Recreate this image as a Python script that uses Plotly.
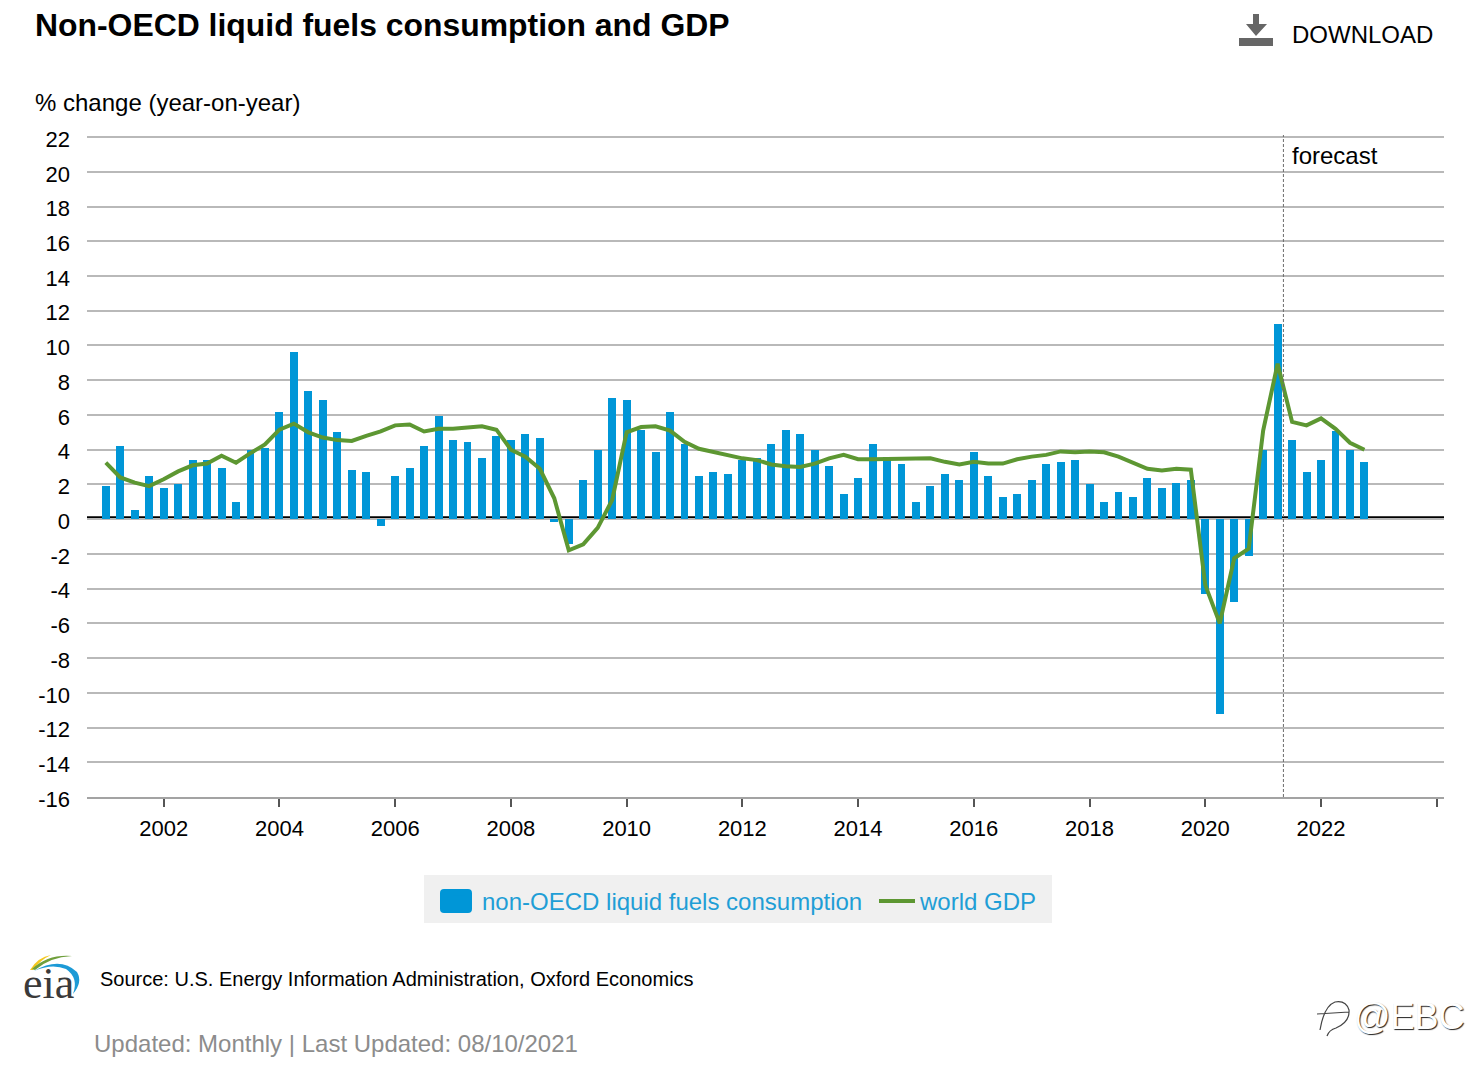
import plotly.graph_objects as go

START_YEAR = 2001
consumption = [1.9,4.2,0.5,2.5,1.8,2.0,3.4,3.4,2.95,1.0,4.0,4.1,6.15,9.6,7.4,6.85,5.0,2.85,2.7,-0.4,
               2.5,2.95,4.2,5.95,4.55,4.45,3.5,4.8,4.55,4.9,4.65,-0.15,-1.45,2.25,4.0,7.0,6.85,5.15,3.85,6.15,
               4.3,2.5,2.7,2.6,3.4,3.5,4.3,5.15,4.9,4.0,3.05,1.45,2.35,4.3,3.6,3.15,1.0,1.9,2.6,2.25,
               3.85,2.5,1.3,1.45,2.25,3.15,3.3,3.4,2.0,1.0,1.55,1.3,2.35,1.8,2.1,2.25,-4.3,-11.2,-4.75,-2.1,
               4.0,11.25,4.55,2.7,3.4,5.1,4.0,3.3]
gdp = [3.25,2.4,2.1,1.9,2.3,2.75,3.1,3.2,3.65,3.25,3.8,4.3,5.15,5.5,5.0,4.7,4.55,4.5,4.8,5.05,
       5.4,5.45,5.05,5.2,5.2,5.25,5.35,5.15,4.0,3.6,2.9,1.2,-1.8,-1.45,-0.5,1.1,5.0,5.3,5.35,5.1,
       4.45,4.05,3.85,3.7,3.5,3.4,3.15,3.05,3.0,3.2,3.5,3.7,3.45,3.45,3.45,3.45,3.45,3.5,3.3,3.15,
       3.3,3.2,3.2,3.45,3.6,3.7,3.9,3.85,3.9,3.85,3.6,3.25,2.9,2.8,2.9,2.85,-3.8,-6.0,-2.25,-1.7,
       5.1,8.95,5.6,5.4,5.8,5.2,4.4,4.0]
quarters = [START_YEAR + i / 4 for i in range(len(consumption))]
year_ticks = [2002,2004,2006,2008,2010,2012,2014,2016,2018,2020,2022,2024]
year_labels = ["2002","2004","2006","2008","2010","2012","2014","2016","2018","2020","2022",""]
y_ticks = [22,20,18,16,14,12,10,8,6,4,2,0,-2,-4,-6,-8,-10,-12,-14,-16]
y_labels = ["22","20","18","16","14","12","10","8","6","4","2","0","-2","-4","-6","-8","-10","-12","-14","-16"]
FORECAST_START = 2021.35

L, R, T, B = 87, 1444, 135, 797
W, H = 1480, 1074
def px(x): return (x - L) / (R - L)
def py(y): return (B - y) / (B - T)

BLUE, GREEN = "#0096d7", "#5d9732"
FONT = "Liberation Sans"

fig = go.Figure()
fig.add_bar(x=quarters, y=consumption, name="non-OECD liquid fuels consumption",
            marker=dict(color=BLUE, line_width=0), width=0.1375)
fig.add_scatter(x=quarters, y=gdp, name="world GDP", mode="lines",
                line=dict(color=GREEN, width=4))

def text(x, y, s, size, color="#000000", anchor="left", bold=False, family=FONT, **kw):
    fig.add_annotation(xref="paper", yref="paper", x=px(x), y=py(y), text=f"<b>{s}</b>" if bold else s,
                       showarrow=False, xanchor=anchor, yanchor="middle", align="left",
                       font=dict(size=size, color=color, family=family, **kw.pop("font", {})),
                       borderpad=0, borderwidth=0, **kw)

text(35, 25, "Non-OECD liquid fuels consumption and GDP", 31.9, bold=True)
text(1292, 34, "DOWNLOAD", 24)
text(35, 103, "% change (year-on-year)", 24)
text(1292, 155.5, "forecast", 24)
text(100, 979, "Source: U.S. Energy Information Administration, Oxford Economics", 20)
text(94, 1043.5, "Updated: Monthly | Last Updated: 08/10/2021", 24, color="#8c8c8c")
text(23, 983, "eia", 44, color="#3a3a3a", family="Liberation Serif")
text(1354, 1016, "@EBC", 36, color="#ffffff", font=dict(shadow="1px 1px 1px #222"))

def path(points_cmd):
    out = []
    for c in points_cmd:
        if isinstance(c, str):
            out.append(c)
        else:
            out.append(f"{px(c[0]):.5f},{py(c[1]):.5f}")
    return " ".join(out)

shapes = [
    dict(type="line", xref="x", yref="paper", x0=FORECAST_START, x1=FORECAST_START, y0=0, y1=1,
         line=dict(color="#6b6b6b", width=1, dash="3px,2px"), layer="above"),
    # zero line
    dict(type="line", xref="paper", yref="y", x0=0, x1=1, y0=0.1, y1=0.1,
         line=dict(color="#000000", width=2.5), layer="below"),
    # legend panel and swatch beneath the transparent legend
    dict(type="rect", xref="paper", yref="paper", x0=px(424), x1=px(1052), y0=py(923), y1=py(875),
         fillcolor="#f0f0f0", line_width=0, layer="below"),
    dict(type="path", xref="paper", yref="paper",
         path=path(["M",(444,889),"L",(468,889),"Q",(472,889),(472,893),"L",(472,909),"Q",(472,913),(468,913),
                    "L",(444,913),"Q",(440,913),(440,909),"L",(440,893),"Q",(440,889),(444,889),"Z"]),
         fillcolor=BLUE, line_width=0, layer="below"),
    # download icon
    dict(type="rect", xref="paper", yref="paper", x0=px(1239), x1=px(1273), y0=py(46), y1=py(38),
         fillcolor="#666666", line_width=0),
    dict(type="path", xref="paper", yref="paper",
         path=path(["M",(1253,14),"L",(1259,14),"L",(1259,24),"L",(1267,24),"L",(1256,36),"L",(1246,24),"L",(1253,24),"Z"]),
         fillcolor="#666666", line_width=0),
    # logo arcs
    dict(type="path", xref="paper", yref="paper", path=path(["M",(30,970),"Q",(38,957),(51,955),"Q",(40,960),(33,970),"Z"]),
         fillcolor="#f4c81e", line_width=0),
    dict(type="path", xref="paper", yref="paper", path=path(["M",(32,969),"Q",(48,954),(72,956),"Q",(50,957),(35,970),"Z"]),
         fillcolor="#6f9f3c", line_width=0),
    dict(type="path", xref="paper", yref="paper", path=path(["M",(34,971),"Q",(60,956),(77,972),"Q",(83,982),(73,994),"Q",(79,978),(66,969),"Q",(52,963),(34,971),"Z"]),
         fillcolor="#1c9ad6", line_width=0),
    # watermark glyph
    dict(type="path", xref="paper", yref="paper",
         path=path(["M",(1327,1036),"Q",(1329,1030),(1336,1028),"Q",(1350,1022),(1349,1010),"Q",(1346,1000),(1335,1002),"Q",(1324,1006),(1320,1030),
                    "M",(1317,1014),"L",(1349,1012)]),
         line=dict(color="#444444", width=1.2), fillcolor="rgba(0,0,0,0)"),
]

fig.update_layout(
    width=W, height=H, margin=dict(l=L, r=W - R, t=T, b=H - B, pad=0, autoexpand=False),
    paper_bgcolor="#ffffff", plot_bgcolor="#ffffff",
    font=dict(family=FONT, size=22, color="#000000"),
    bargap=0, shapes=shapes,
    legend=dict(orientation="h", x=px(436), y=py(879), xanchor="left", yanchor="top",
                bgcolor="rgba(0,0,0,0)", font=dict(size=24, color="#1f9ed6", family=FONT), itemwidth=36,
                entrywidth=387, entrywidthmode="pixels", traceorder="normal"),
    xaxis=dict(range=[2000.675, 2024.125], tickmode="array", tickvals=year_ticks, ticktext=year_labels,
               ticks="outside", ticklen=8, tickwidth=2, tickcolor="#555555", showgrid=False,
               showline=True, linecolor="#a3a3a3", linewidth=2, zeroline=False,
               ticklabelstandoff=3, tickfont=dict(size=22)),
    yaxis=dict(range=[-16, 22.12], tickmode="array", tickvals=y_ticks, ticktext=y_labels, showgrid=True,
               gridcolor="#b9b9b9", gridwidth=2, zeroline=False,
               showline=False, ticks="", ticklabelstandoff=16, ticklabelshift=2, tickfont=dict(size=22)),
)

fig.write_html("out.html", config=dict(displayModeBar=False), post_script="document.body.style.margin='0';")
